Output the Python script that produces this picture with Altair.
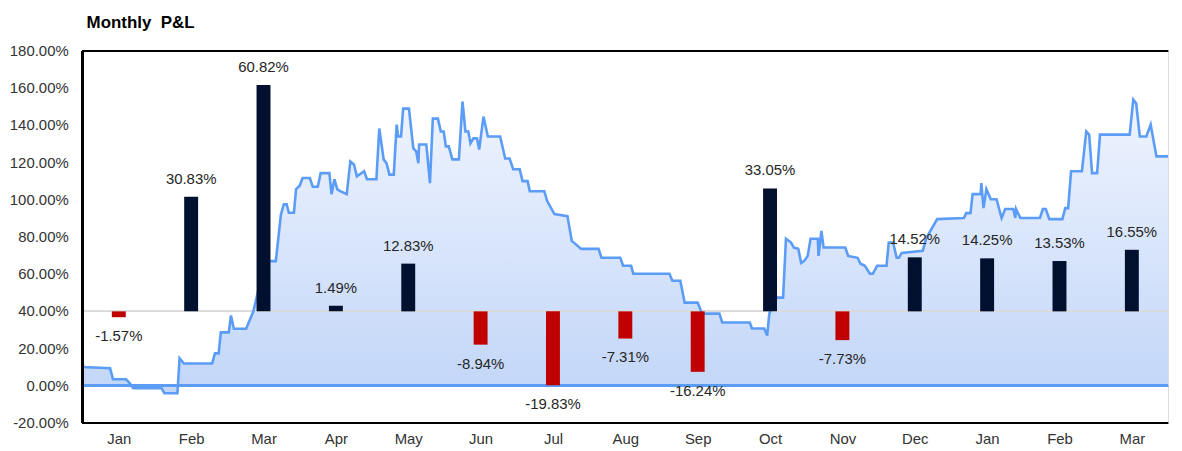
import altair as alt
import pandas as pd

# ---------------- data ----------------
months = ["Jan", "Feb", "Mar", "Apr", "May", "Jun", "Jul", "Aug", "Sep",
          "Oct", "Nov", "Dec", "Jan", "Feb", "Mar"]
monthly_pnl = [-1.57, 30.83, 60.82, 1.49, 12.83, -8.94, -19.83, -7.31, -16.24,
               33.05, -7.73, 14.52, 14.25, 13.53, 16.55]

# cumulative P&L curve: position in months (0 = start of first Jan) and value in %
curve_t = [0.00, 0.01, 0.38, 0.42, 0.60, 0.65, 0.70, 1.09, 1.13, 1.31, 1.34, 1.40,
           1.79, 1.83, 1.88, 1.91, 2.02, 2.05, 2.09, 2.26, 2.36, 2.45, 2.54, 2.60,
           2.67, 2.74, 2.78, 2.82, 2.85, 2.92, 2.95, 3.00, 3.04, 3.14, 3.18, 3.25,
           3.29, 3.41, 3.44, 3.48, 3.52, 3.56, 3.65, 3.70, 3.75, 3.79, 3.89, 3.93,
           4.06, 4.10, 4.16, 4.20, 4.24, 4.30, 4.34, 4.36, 4.40, 4.43, 4.51, 4.57,
           4.61, 4.64, 4.65, 4.75, 4.80, 4.84, 4.91, 4.95, 4.99, 5.02, 5.06, 5.11,
           5.20, 5.25, 5.29, 5.33, 5.36, 5.40, 5.45, 5.48, 5.54, 5.60, 5.77, 5.84,
           5.90, 5.95, 6.04, 6.08, 6.15, 6.18, 6.38, 6.42, 6.52, 6.70, 6.76, 6.89,
           7.13, 7.17, 7.43, 7.47, 7.58, 7.61, 8.11, 8.15, 8.26, 8.32, 8.50, 8.56,
           8.80, 8.84, 9.22, 9.25, 9.42, 9.46, 9.49, 9.59, 9.68, 9.72, 9.79, 9.83,
           9.89, 9.93, 9.97, 10.02, 10.06, 10.16, 10.17, 10.21, 10.24, 10.54, 10.58,
           10.71, 10.75, 10.81, 10.88, 10.92, 10.98, 11.11, 11.14, 11.20, 11.25,
           11.28, 11.32, 11.61, 11.66, 11.81, 12.18, 12.21, 12.27, 12.30, 12.41,
           12.42, 12.45, 12.49, 12.55, 12.63, 12.70, 12.75, 12.86, 12.89, 12.90,
           12.96, 13.23, 13.27, 13.31, 13.36, 13.54, 13.58, 13.62, 13.66, 13.81,
           13.87, 13.91, 13.95, 14.02, 14.06, 14.47, 14.52, 14.56, 14.61, 14.70,
           14.76, 14.84, 15.00]
curve_v = [12.8, 10.1, 9.4, 3.5, 3.5, 1.4, -1.3, -1.3, -4.0, -4.0, 14.8, 12.0,
           12.0, 17.4, 17.4, 28.7, 28.7, 37.8, 30.7, 30.7, 40.0, 55.0, 67.0, 67.0,
           67.0, 92.0, 97.5, 97.5, 93.0, 93.0, 105.7, 107.5, 111.7, 111.7, 107.0, 107.0,
           114.3, 114.3, 103.0, 111.0, 105.6, 104.6, 103.0, 120.6, 119.0, 112.6, 115.3, 111.0,
           111.0, 138.3, 121.7, 119.6, 113.5, 113.5, 140.4, 134.0, 134.0, 149.0, 149.0, 127.6,
           126.0, 119.6, 129.7, 129.7, 108.9, 143.6, 143.6, 136.7, 136.7, 128.7, 128.7, 121.7,
           121.7, 152.7, 136.7, 136.7, 130.3, 133.0, 133.0, 127.0, 144.7, 134.0, 134.0, 122.2,
           122.2, 116.4, 116.4, 110.0, 110.0, 104.6, 104.6, 99.3, 92.3, 91.2, 77.9, 73.6,
           73.6, 68.8, 68.8, 64.5, 64.5, 60.2, 60.2, 56.5, 56.5, 44.7, 44.7, 38.8,
           38.8, 34.0, 34.0, 30.8, 30.8, 27.0, 38.8, 47.4, 47.4, 79.0, 77.0, 74.3,
           73.6, 66.0, 67.0, 69.8, 79.0, 79.0, 69.8, 83.2, 74.3, 74.3, 69.8,
           68.8, 65.6, 64.5, 60.2, 60.2, 64.5, 64.5, 77.0, 77.0, 68.8,
           68.8, 71.4, 72.5, 79.5, 89.6, 90.2, 92.8, 92.8, 103.0, 103.0,
           108.9, 95.5, 105.7, 100.3, 100.3, 90.2, 95.0, 95.0, 90.2, 95.0,
           90.2, 90.2, 95.0, 95.0, 89.6, 89.6, 95.5, 95.5, 115.3, 115.3,
           136.7, 135.0, 114.3, 114.3, 135.0, 135.0, 153.8, 151.7, 134.0, 134.0,
           140.4, 123.3, 123.3]

bar_base = 40       # bars are drawn from the 40% line
bar_scale = 2       # each monthly % is drawn at twice its size

y_ticks = list(range(-20, 181, 20))

# ---------------- tables ----------------
curve_df = pd.DataFrame({"t": curve_t, "v": curve_v})
bars_df = pd.DataFrame({"pos": [i + 0.5 for i in range(len(months))],
                        "month": months, "pnl": monthly_pnl})
ticks_df = pd.DataFrame({"tick": y_ticks})

FONT = "Liberation Sans"
LINE = "#5b9cf6"
PCT = "(datum.{f} < 0 ? '-' : '') + format(abs(datum.{f}), '.2f') + '%'"

x_scale = alt.Scale(domain=[0, len(months)], nice=False, zero=False, padding=0)
y_scale = alt.Scale(domain=[-20, 180], nice=False, zero=False, padding=0)

month_expr = "[" + ",".join("'" + m + "'" for m in months) + "][floor(datum.value)]"

x_axis = alt.Axis(values=[i + 0.5 for i in range(len(months))], labelExpr=month_expr,
                  title=None, grid=False, ticks=False, tickSize=0, domain=False,
                  labelFont=FONT, labelFontSize=15, labelColor="#333333",
                  labelPadding=9, labelOverlap=False)
y_axis = alt.Axis(values=y_ticks, labels=False, title=None, grid=False,
                  ticks=False, tickSize=0, domain=False)

gradient = alt.Gradient(
    gradient="linear",
    stops=[alt.GradientStop(color="#eff4fe", offset=0),
           alt.GradientStop(color="#c2d6f8", offset=1)],
    x1=0, x2=0, y1=0, y2=1)

base_curve = alt.Chart(curve_df)

area = base_curve.mark_area(fill=gradient, stroke=None).encode(
    x=alt.X("t:Q", scale=x_scale, axis=x_axis),
    y=alt.Y("v:Q", scale=y_scale, axis=y_axis),
    y2=alt.datum(0),
)

# y-axis tick labels, placed with the y scale
y_labels = alt.Chart(ticks_df).transform_calculate(
    txt=PCT.format(f="tick")
).mark_text(font=FONT, fontSize=15, color="#333333", align="right",
            baseline="middle", dx=-14).encode(
    x=alt.datum(0),
    y=alt.Y("tick:Q"),
    text="txt:N",
)

rule40 = alt.Chart(bars_df).mark_rule(color="#d9d9d9", strokeWidth=1.2).encode(
    y=alt.datum(bar_base))

rule0 = alt.Chart(bars_df).mark_rule(color=LINE, strokeWidth=2.5).encode(
    y=alt.datum(0))

# frame: top, bottom and left edges
rule_top = alt.Chart(bars_df).mark_rule(color="black", strokeWidth=2).encode(
    y=alt.datum(180))
rule_bottom = alt.Chart(bars_df).mark_rule(color="black", strokeWidth=2).encode(
    y=alt.datum(-20))
rule_left = alt.Chart(bars_df).mark_rule(color="black", strokeWidth=2).encode(
    x=alt.datum(0))

line = base_curve.mark_line(color=LINE, strokeWidth=2.6, interpolate="linear").encode(
    x=alt.X("t:Q"),
    y=alt.Y("v:Q"),
)

bars_base = alt.Chart(bars_df).transform_calculate(
    top=f"{bar_base} + {bar_scale} * datum.pnl",
    label=PCT.format(f="pnl"),
)

bars = bars_base.mark_bar(width=14).encode(
    x=alt.X("pos:Q"),
    y=alt.Y("top:Q"),
    y2=alt.datum(bar_base),
    color=alt.condition(alt.datum.pnl < 0, alt.value("#c00000"), alt.value("#00102e")),
)

labels_pos = bars_base.transform_filter(alt.datum.pnl >= 0).mark_text(
    font=FONT, fontSize=15, color="#262626", dy=-18, baseline="middle").encode(
    x=alt.X("pos:Q"),
    y=alt.Y("top:Q"),
    text="label:N",
)
labels_neg = bars_base.transform_filter(alt.datum.pnl < 0).mark_text(
    font=FONT, fontSize=15, color="#262626", dy=19, baseline="middle").encode(
    x=alt.X("pos:Q"),
    y=alt.Y("top:Q"),
    text="label:N",
)

chart = alt.layer(area, rule40, rule0, line, bars, labels_pos, labels_neg,
                  rule_top, rule_bottom, rule_left, y_labels).properties(
    width=1091, height=374,
    title=alt.TitleParams("Monthly\u00a0\u00a0P&L", anchor="start", frame="group",
                          font=FONT, fontSize=17, fontWeight="bold", color="black",
                          offset=12, dx=4),
    padding={"left": 1, "top": 5, "right": 0, "bottom": 0},
).configure_view(stroke=None).configure(background="white")

chart.save("out.html", embed_options={"renderer": "svg", "actions": False})
